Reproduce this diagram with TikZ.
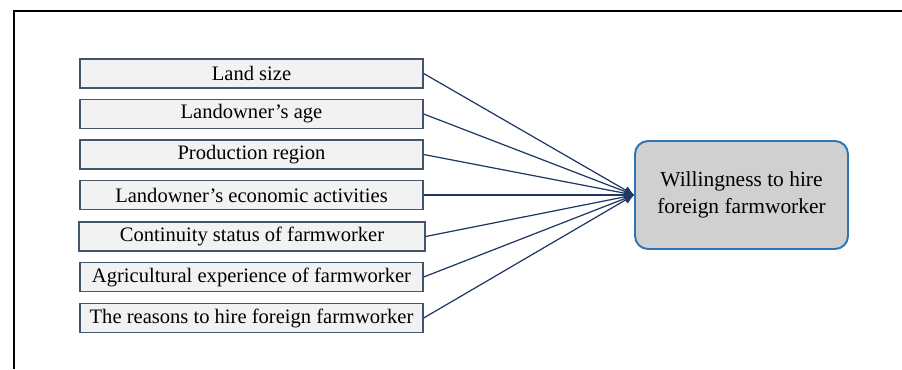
\documentclass[tikz,border=0pt]{standalone}
\usepackage{fontspec}
\setmainfont{Liberation Serif}
\newfontfamily\timesfont{Liberation Serif}
\usetikzlibrary{arrows.meta}

\definecolor{navyline}{HTML}{1F3864}
\definecolor{boxedge}{HTML}{44546A}
\definecolor{boxfill}{HTML}{F2F2F2}
\definecolor{outfill}{HTML}{D0D0D0}
\definecolor{outedge}{HTML}{2E75B6}

\begin{document}
\begin{tikzpicture}[x=0.02cm, y=-0.02cm,
        factor/.style={draw=boxedge, fill=boxfill, line width=0.8pt,
            minimum width=6.86cm, minimum height=0.58cm, inner sep=0pt,
            font=\timesfont\fontsize{11.7}{13}\selectfont},
        outcome/.style={draw=outedge, fill=outfill, line width=1.1pt,
            rounded corners=0.26cm, minimum width=4.26cm, minimum height=2.16cm,
            align=center, font=\timesfont\fontsize{12.2}{15.3}\selectfont},
        link/.style={navyline, line width=0.7pt, -{Latex[length=5.5pt, width=5pt]}}]

        \useasboundingbox (0, 0) rectangle (902, 369);

        % frame (only top and left edges show)
        \draw[line width=0.85pt] (902, 11) -- (14, 11) -- (14, 369);

        % factors
        \node[factor] (size) at (251.5, 73.5) {Land size};
        \node[factor] (age) at (251.5, 114) {Landowner’s age};
        \node[factor] (region) at (251.5, 154.5) {Production region};
        \node[factor] (econ) at (251.5, 195) {Landowner’s economic activities};
        \node[factor, minimum width=6.92cm] (cont) at (252, 236.5) {Continuity status of farmworker};
        \node[factor] (exper) at (251.5, 277) {Agricultural experience of farmworker};
        \node[factor] (reason) at (251.5, 318) {The reasons to hire foreign farmworker};

        % outcome
        \node[outcome] (will) at (741.5, 195) {Willingness to hire\\foreign farmworker};

        \draw[link] (size.east) -- (will.west);
        \draw[link] (age.east) -- (will.west);
        \draw[link] (region.east) -- (will.west);
        \draw[link] (econ.east) -- (will.west);
        \draw[link] (cont.east) -- (will.west);
        \draw[link] (exper.east) -- (will.west);
        \draw[link] (reason.east) -- (will.west);

\end{tikzpicture}
\end{document}
